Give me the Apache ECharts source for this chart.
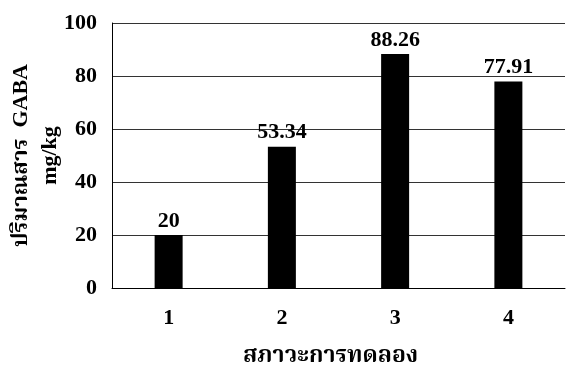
<!DOCTYPE html>
<html><head><meta charset="utf-8">
<script src="https://cdn.jsdelivr.net/npm/echarts@6/dist/echarts.min.js"></script>
<style>html,body{margin:0;padding:0;background:#fff}#c{width:570px;height:376px}</style>
</head><body><div id="c"></div>
<script>
const categories = ['1', '2', '3', '4'];
const gabaValues = [20, 53.34, 88.26, 77.91];
const yTicks = [0, 20, 40, 60, 80, 100];

const FONT = '"Liberation Serif", "Times New Roman", "Noto Serif Thai", "Noto Sans Thai", serif';
const chart = echarts.init(document.getElementById('c'));
chart.setOption({
  animation: false,
  backgroundColor: '#fff',
  grid: { left: 112, right: 5, top: 23, bottom: 88, containLabel: false, outerBoundsMode: 'none' },
  xAxis: {
    type: 'category',
    data: categories,
    name: 'สภาวะการทดลอง',
    nameLocation: 'middle',
    nameGap: 57,
    nameMoveOverlap: false,
    nameTextStyle: { fontFamily: FONT, fontWeight: 'bold', fontSize: 23, color: '#000', padding: [0, 16, 0, 0] },
    axisLine: { lineStyle: { color: '#000', width: 1 } },
    axisTick: { show: false },
    axisLabel: { fontFamily: FONT, fontWeight: 'bold', fontSize: 22, color: '#000', margin: 19 }
  },
  yAxis: {
    type: 'value',
    min: yTicks[0],
    max: yTicks[yTicks.length - 1],
    interval: 20,
    name: '{a|ปริมาณสาร  GABA}\n{b|mg/kg}',
    nameLocation: 'middle',
    nameGap: 47,
    nameMoveOverlap: false,
    nameRotate: 90,
    nameTextStyle: {
      color: '#000',
      rich: {
        a: { fontFamily: FONT, fontWeight: 'bold', fontSize: 22, color: '#000', lineHeight: 29 },
        b: { fontFamily: FONT, fontWeight: 'bold', fontSize: 22, color: '#000', lineHeight: 29 }
      }
    },
    axisLine: { show: true, lineStyle: { color: '#000', width: 1 } },
    axisTick: { show: false },
    axisLabel: { fontFamily: FONT, fontWeight: 'bold', fontSize: 22, color: '#000', margin: 15 },
    splitLine: { show: true, lineStyle: { color: '#333', width: 1 } }
  },
  series: [{
    type: 'bar',
    data: gabaValues,
    barWidth: 28,
    itemStyle: { color: '#000' },
    label: {
      show: true,
      position: 'top',
      distance: 3,
      fontFamily: FONT,
      fontWeight: 'bold',
      fontSize: 22,
      color: '#000'
    }
  }]
});
</script></body></html>
